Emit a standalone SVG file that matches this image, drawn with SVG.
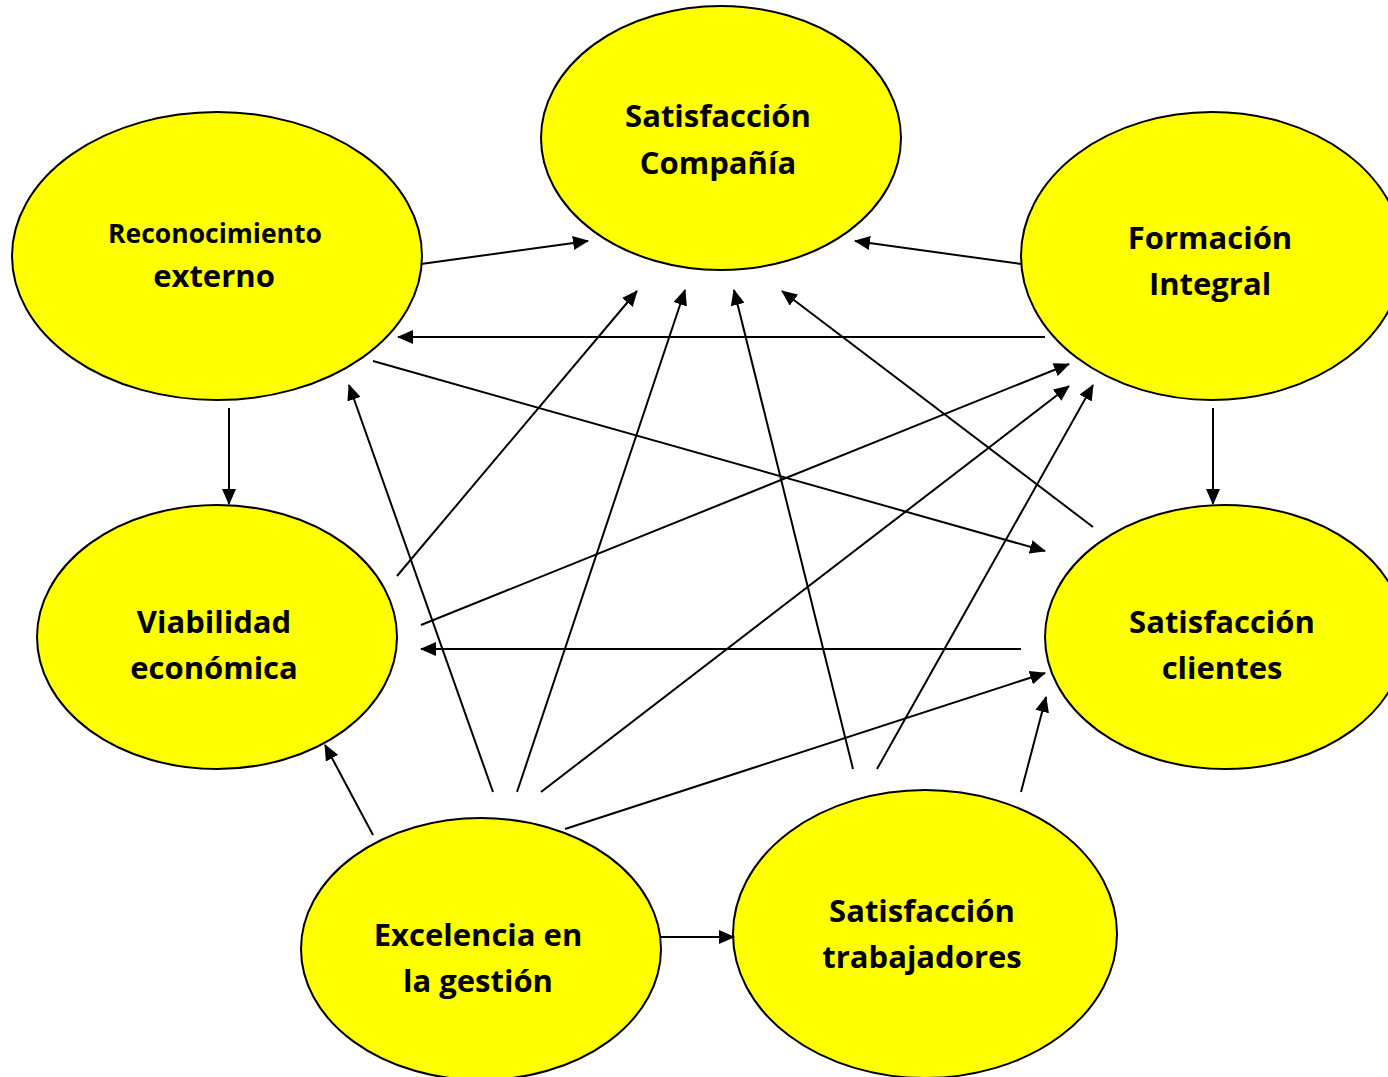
<svg xmlns="http://www.w3.org/2000/svg" width="1388" height="1077" viewBox="0 0 1388 1077">
<style>
.node{fill:#ffff00;stroke:#000;stroke-width:2}
.lbl{font-family:"Open Sans","Liberation Sans",sans-serif;font-weight:bold;font-size:31px;fill:#000;text-anchor:middle}
.sm{font-size:26.5px}
.c line{stroke:#000;stroke-width:2;marker-end:url(#ah)}
</style>
<defs>
<marker id="ah" markerUnits="userSpaceOnUse" markerWidth="16" markerHeight="14" refX="15" refY="7" orient="auto">
<path d="M0,0 L16,7 L0,14 Z" fill="#000"/>
</marker>
</defs>
<rect width="1388" height="1077" fill="#fff"/>
<g id="n-compania"><ellipse class="node" cx="721" cy="138" rx="180" ry="132"/><text class="lbl" x="718" y="127">Satisfacción</text><text class="lbl" x="718" y="174">Compañía</text></g>
<g id="n-reconocimiento"><ellipse class="node" cx="217" cy="256" rx="205" ry="144"/><text class="lbl sm" x="215" y="243">Reconocimiento</text><text class="lbl" x="214" y="287">externo</text></g>
<g id="n-formacion"><ellipse class="node" cx="1212" cy="256" rx="191" ry="144"/><text class="lbl" x="1210" y="249">Formación</text><text class="lbl" x="1210" y="295">Integral</text></g>
<g id="n-viabilidad"><ellipse class="node" cx="217" cy="637" rx="180" ry="132"/><text class="lbl" x="214" y="633">Viabilidad</text><text class="lbl" x="214" y="679">económica</text></g>
<g id="n-clientes"><ellipse class="node" cx="1225" cy="637" rx="180" ry="132"/><text class="lbl" x="1222" y="633">Satisfacción</text><text class="lbl" x="1222" y="679">clientes</text></g>
<g id="n-excelencia"><ellipse class="node" cx="481" cy="949" rx="180" ry="131"/><text class="lbl" x="478" y="946">Excelencia en</text><text class="lbl" x="478" y="992">la gestión</text></g>
<g id="n-trabajadores"><ellipse class="node" cx="925" cy="934" rx="192" ry="144"/><text class="lbl" x="922" y="922">Satisfacción</text><text class="lbl" x="922" y="968">trabajadores</text></g>
<g id="connectors" class="c">
<line x1="421" y1="264" x2="588" y2="241"/>
<line x1="1021" y1="264" x2="855" y2="241"/>
<line x1="1045" y1="337" x2="398" y2="337"/>
<line x1="1213" y1="408" x2="1213" y2="504"/>
<line x1="229" y1="408" x2="229" y2="504"/>
<line x1="373" y1="361" x2="1045" y2="551"/>
<line x1="397" y1="576" x2="637" y2="291"/>
<line x1="421" y1="625" x2="1069" y2="364"/>
<line x1="1021" y1="649" x2="421" y2="649"/>
<line x1="1093" y1="527" x2="782" y2="291"/>
<line x1="493" y1="792" x2="349" y2="385"/>
<line x1="517" y1="792" x2="685" y2="290"/>
<line x1="541" y1="792" x2="1069" y2="386"/>
<line x1="565" y1="829" x2="1045" y2="673"/>
<line x1="373" y1="835" x2="325" y2="745"/>
<line x1="661" y1="937" x2="734" y2="937"/>
<line x1="853" y1="769" x2="734" y2="290"/>
<line x1="877" y1="769" x2="1093" y2="385"/>
<line x1="1021" y1="792" x2="1046" y2="697"/>
</g>
</svg>
